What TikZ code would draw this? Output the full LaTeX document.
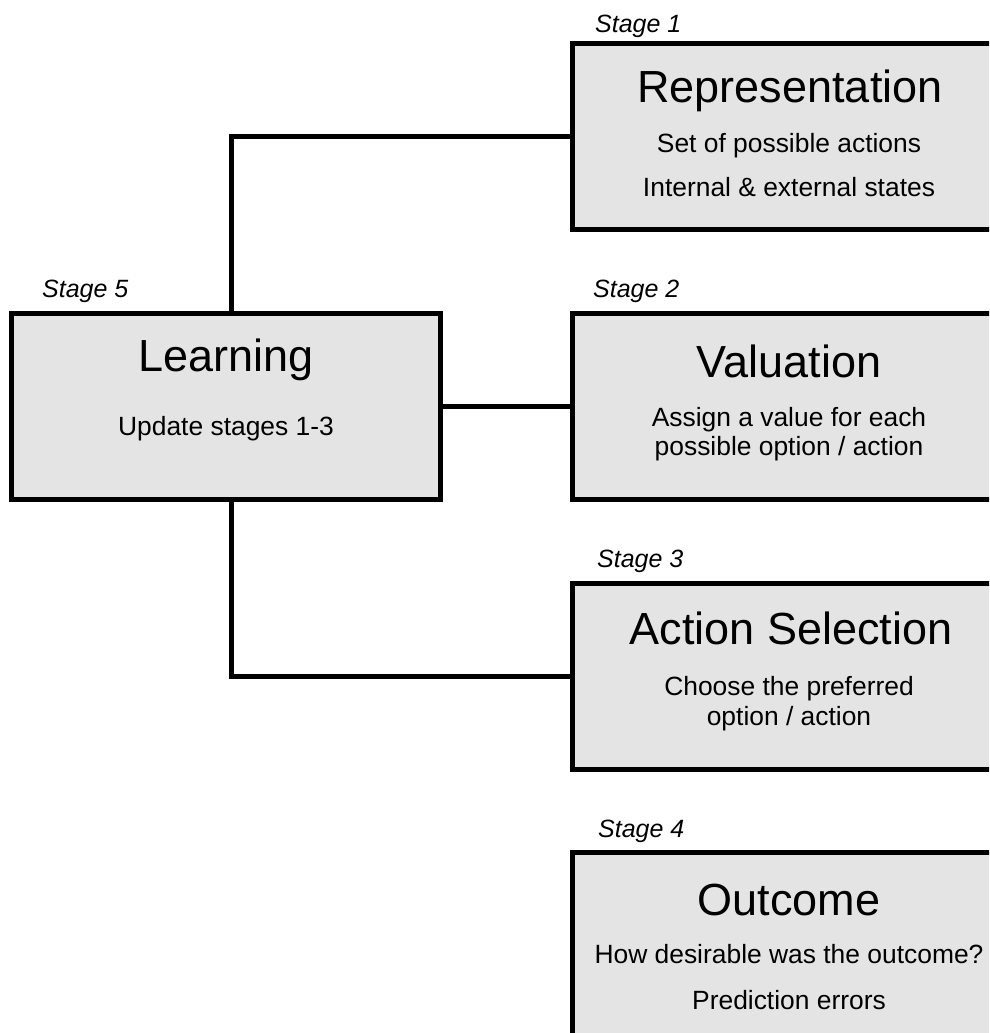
\documentclass[tikz,border=0pt]{standalone}
\usepackage{fontspec}
\setmainfont{Liberation Sans}
\definecolor{boxfill}{RGB}{228,228,228}
\tikzset{
  stagebox/.style={draw=black, line width=5pt, fill=boxfill, rectangle, inner sep=0pt, minimum height=186pt},
  title/.style={anchor=base, inner sep=0pt, font=\fontsize{45}{50}\selectfont},
  sub/.style={anchor=base, inner sep=0pt, font=\fontsize{26.4}{29}\selectfont},
  stagelbl/.style={anchor=base west, inner sep=0pt, font=\fontsize{25}{28}\selectfont\itshape},
  conn/.style={draw=black, line width=5pt}
}
\begin{document}
\begin{tikzpicture}[x=1pt,y=-1pt]
\useasboundingbox (0,0) rectangle (989,1033);
\clip (0,0) rectangle (989,1033);
\fill[white] (0,0) rectangle (989,1033);
% boxes
\node[stagebox, minimum width=432pt] (R1) at (788,136.5) {};
\node[stagebox, minimum width=432pt] (R2) at (788,406) {};
\node[stagebox, minimum width=432pt] (R3) at (788,676) {};
\node[stagebox, minimum width=432pt] (R4) at (788,945) {};
\node[stagebox, minimum width=429pt] (L) at (226,406) {};
\coordinate (cx) at (231,0);
% connectors
\draw[conn] (L.north -| cx) |- (R1.west);
\draw[conn] (L.east) -- (R2.west);
\draw[conn] (L.south -| cx) |- (R3.west);
% stage labels
\node[stagelbl] (s1) at (595,33) {Stage 1};
\node[stagelbl] (s2) at (593,297) {Stage 2};
\node[stagelbl] (s3) at (597,567) {Stage 3};
\node[stagelbl] (s4) at (598,837) {Stage 4};
\node[stagelbl] (s5) at (42,297) {Stage 5};
% texts
\node[title] (t1) at (790,102) {Representation};
\node[sub] (t1a) at (789,152) {Set of possible actions};
\node[sub] (t1b) at (789,196) {Internal \& external states};
\node[title] (t2) at (789,377) {Valuation};
\node[sub] (t2a) at (789,426) {Assign a value for each};
\node[sub] (t2b) at (789,455) {possible option / action};
\node[title] (t3) at (791,644) {Action Selection};
\node[sub] (t3a) at (789,695) {Choose the preferred};
\node[sub] (t3b) at (789,725) {option / action};
\node[title] (t4) at (789,915) {Outcome};
\node[sub] (t4a) at (789,963) {How desirable was the outcome?};
\node[sub] (t4b) at (789,1009) {Prediction errors};
\node[title] (t5) at (226,371) {Learning};
\node[sub] (t5a) at (226,435) {Update stages 1-3};
\end{tikzpicture}
\end{document}
